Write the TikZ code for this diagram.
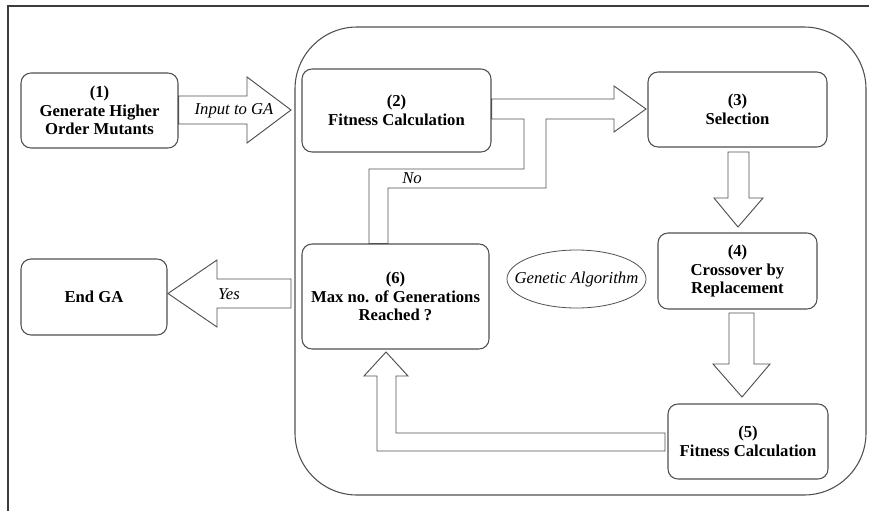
\documentclass[tikz,border=0pt]{standalone}
\usepackage{fontspec}
\setmainfont{Liberation Serif}
\usetikzlibrary{shapes.geometric}
\definecolor{lin}{RGB}{80,80,80}
\definecolor{frame}{RGB}{60,60,60}
\tikzset{
  box/.style={draw=lin, line width=0.8pt, fill=white, rounded corners=7.5pt,
    align=center, inner sep=2pt,
    font=\fontsize{12.5}{13.9}\selectfont\bfseries},
  blockarrow/.style={draw=lin, line width=0.7pt, fill=white, line join=miter},
  lbl/.style={font=\fontsize{12.5}{13.9}\selectfont\itshape, inner sep=1pt},
  gaframe/.style={draw=lin, line width=0.8pt, rounded corners=46.5pt,
    minimum width=428.25pt, minimum height=351pt, inner sep=0pt}
}
\begin{document}
\begin{tikzpicture}[x=0.75pt, y=-0.75pt]
\useasboundingbox (0,0) rectangle (869,511);
% outer frame (top and left edges visible)
\draw[frame, line width=0.8pt] (869,6) -- (8,6) -- (8,511);
% big GA frame
\node[gaframe] (ga) at (580.5,261) {};
% nodes
\node[box, minimum width=117.75pt, minimum height=56.25pt] (n1) at (99.5,110.5) {(1)\\Generate Higher\\Order Mutants};
\node[box, minimum width=141.75pt, minimum height=62.25pt] (n2) at (396.5,110.5) {(2)\\Fitness Calculation};
\node[box, minimum width=134.25pt, minimum height=56.25pt] (n3) at (737.5,109.5) {(3)\\Selection};
\node[box, minimum width=119.25pt, minimum height=57pt] (n4) at (737.5,271) {(4)\\Crossover by\\Replacement};
\node[box, minimum width=120pt, minimum height=56.25pt] (n5) at (748,441.5) {(5)\\Fitness Calculation};
\node[box, minimum width=140.25pt, minimum height=78.75pt] (n6) at (395.5,296.5) {(6)\\Max no. of Generations\\Reached ?};
\node[box, minimum width=109.5pt, minimum height=57pt] (nend) at (94,297) {End GA};
\node[draw=lin, line width=0.6pt, ellipse, minimum width=104.25pt, minimum height=43.5pt, inner sep=0pt,
      font=\fontsize{12.5}{13.9}\selectfont\itshape] (gen) at (576.5,279) {\makebox[0pt][c]{Genetic Algorithm}};
% block arrows
% (1) -> GA
\draw[blockarrow] (n1.east |- 0,96) -- (247,96) -- (247,77) -- (291,110) -- (247,143) -- (247,124) -- (n1.east |- 0,124) -- cycle;
% (2) -> (3), merged with the "No" loop from (6)
\draw[blockarrow] (n2.east |- 0,99) -- (614,99) -- (614,86) -- (646,109) -- (614,132) -- (614,119)
   -- (546,119) -- (546,188) -- (388,188) -- (388,0 |- n6.north) -- (369,0 |- n6.north)
   -- (369,169) -- (524,169) -- (524,119) -- (n2.east |- 0,119) -- cycle;
% (3) -> (4)
\draw[blockarrow] (728,152) -- (728,198) -- (714,198) -- (738,227) -- (763,198) -- (749,198) -- (749,152) -- cycle;
% (4) -> (5)
\draw[blockarrow] (729,313) -- (729,364) -- (713,364) -- (742,397) -- (770,364) -- (754,364) -- (754,313) -- cycle;
% (5) -> (6)
\draw[blockarrow] (665,433) -- (396,433) -- (396,376) -- (408,376) -- (386,352) -- (364,376) -- (377,376) -- (377,451) -- (665,451) -- cycle;
% (6) -> End GA
\draw[blockarrow] (291,279) -- (217,279) -- (217,260) -- (168,293.5) -- (217,327) -- (217,308) -- (291,308) -- cycle;
% labels
\node[lbl] (lin) at (234,111) {Input to GA};
\node[lbl] (lno) at (412,178) {No};
\node[lbl] (lyes) at (229,294) {Yes};
\end{tikzpicture}
\end{document}
